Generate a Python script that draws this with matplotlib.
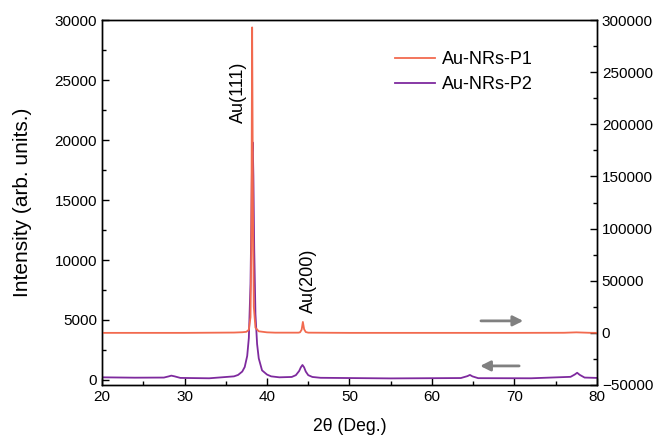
# XRD patterns of the two gold nanorod samples, P1 on the right axis

import matplotlib.pyplot as plt

plt.rcParams['font.family'] = ['Liberation Sans', 'DejaVu Sans']

# P1 trace (right axis)
p1_theta = [20, 30, 36, 37.0, 37.5, 37.8, 38.0, 38.1, 38.2, 38.3, 38.4, 38.6, 39.0,
            40, 41, 43.8, 44.0, 44.2, 44.35, 44.5, 44.7, 45.0, 50, 60, 70, 76, 77.5, 79, 80]
p1_int = [0, 0, 300, 600, 1000, 3000, 15000, 80000, 293000, 120000, 25000, 5000, 1500,
          500, 200, 200, 500, 3000, 10500, 3500, 800, 200, 0, 0, 0, 100, 500, 100, 0]

# P2 trace (left axis)
p2_theta = [20, 24, 27.5, 28.1, 28.4, 28.8, 29.5, 33, 36.0, 36.5, 37.0, 37.3, 37.6, 37.8,
            38.0, 38.1, 38.2, 38.27, 38.35, 38.45, 38.6, 38.8, 39.0, 39.4, 40.0, 40.5,
            41.5, 43.0, 43.5, 43.9, 44.1, 44.3, 44.5, 44.7, 45.0, 45.5, 46.5, 55, 63.5,
            64.3, 64.6, 64.9, 65.6, 72, 76.8, 77.3, 77.6, 77.9, 78.5, 80]
p2_int = [220, 190, 200, 300, 360, 300, 170, 140, 300, 420, 700, 1080, 2000, 3500,
          8000, 13000, 19000, 19800, 17000, 11000, 5500, 3000, 1800, 800, 450, 300,
          220, 250, 400, 750, 1050, 1250, 1050, 700, 400, 250, 180, 130, 160,
          320, 420, 300, 150, 140, 260, 450, 600, 430, 200, 170]

labels = ['Au-NRs-P1', 'Au-NRs-P2']
peak_names = ['Au(111)', 'Au(200)']
peak_spots = [(36.5, 24000), (45.0, 8250)]

fig, ax = plt.subplots(figsize=(6.56, 4.37), dpi=100)
fig.subplots_adjust(left=0.1555, right=0.910, bottom=0.119, top=0.954)
ax2 = ax.twinx()

l1, = ax2.plot(p1_theta, p1_int, color='#F26A4F', lw=1.3, label=labels[0])
l2, = ax.plot(p2_theta, p2_int, color='#7E2A9E', lw=1.3, label=labels[1])

ax.set_xlim(20, 80)
ax.set_ylim(-420, 30000)
ax2.set_ylim(-50000, 300000)
ax.set_xticks(range(20, 81, 10))
ax.set_xticks(range(25, 80, 10), minor=True)
ax.set_yticks(range(0, 30001, 5000))
ax.set_yticks(range(2500, 30000, 5000), minor=True)
ax2.set_yticks(range(-50000, 300001, 50000))
ax2.set_yticks(range(-25000, 300000, 50000), minor=True)

for a in (ax, ax2):
    a.tick_params(which='both', direction='in', labelsize=11, top=False)
    a.tick_params(which='major', length=5, width=1)
    a.tick_params(which='minor', length=3, width=1)
    for s in a.spines.values():
        s.set_linewidth(1)

ax.set_xlabel('2θ (Deg.)', fontsize=12.7, labelpad=10)
ax.set_ylabel('Intensity (arb. units.)', fontsize=15, labelpad=16)

for name, (x, y) in zip(peak_names, peak_spots):
    ax.text(x, y, name, rotation=90, ha='center', va='center', fontsize=13)

# arrows telling which axis each trace belongs to
ax2.annotate('', xy=(71.4, 11500), xytext=(65.6, 11500),
             arrowprops=dict(arrowstyle='-|>', color='#808080', lw=2, mutation_scale=15))
ax.annotate('', xy=(65.5, 1170), xytext=(70.9, 1170),
            arrowprops=dict(arrowstyle='-|>', color='#808080', lw=2, mutation_scale=15))

ax.legend([l1, l2], labels, loc='upper left', bbox_to_anchor=(0.56, 0.96), frameon=False,
          fontsize=13, handlelength=2.2, handletextpad=0.4, labelspacing=0.45)

plt.savefig('out.png', dpi=100)
